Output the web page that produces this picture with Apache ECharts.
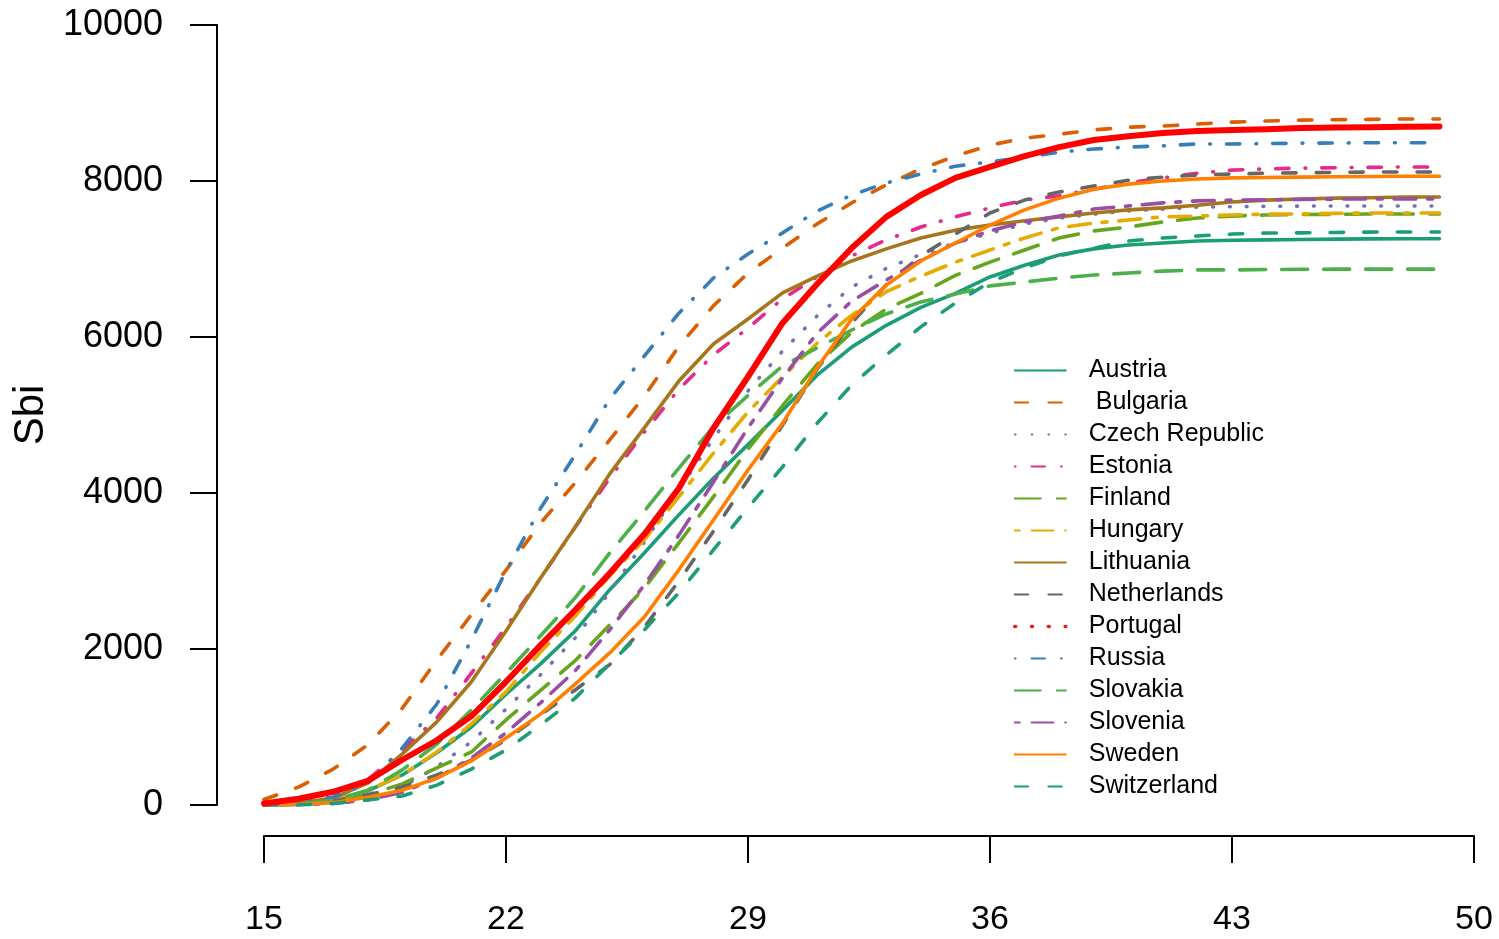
<!DOCTYPE html>
<html>
<head>
<meta charset="utf-8">
<script src="https://cdn.jsdelivr.net/npm/echarts@6/dist/echarts.min.js"></script>
<style>
  html, body { margin: 0; padding: 0; background: #fff; }
  #chart { width: 1499px; height: 939px; }
</style>
</head>
<body>
<div id="chart"></div>
<script>
// ages on the x axis
var ages = [15, 16, 17, 18, 19, 20, 21, 22, 23, 24, 25, 26, 27, 28, 29, 30, 31, 32,
            33, 34, 35, 36, 37, 38, 39, 40, 41, 42, 43, 44, 45, 46, 47, 48, 49];
var xTicks = [15, 22, 29, 36, 43, 50];

var countries = ['Austria', ' Bulgaria', 'Czech Republic', 'Estonia', 'Finland', 'Hungary',
                 'Lithuania', 'Netherlands', 'Portugal', 'Russia', 'Slovakia', 'Slovenia',
                 'Sweden', 'Switzerland'];

// Sbi by age
var austria = [0, 25, 60, 180, 385, 670, 1000, 1420, 1810, 2230, 2760, 3230, 3720, 4190, 4620, 5060, 5510, 5870,
               6150, 6380, 6560, 6770, 6920, 7050, 7130, 7180, 7205, 7230, 7240, 7245, 7250, 7255, 7258, 7260, 7260];
var bulgaria = [70, 230, 460, 770, 1240, 1860, 2440, 3010, 3615, 4130, 4680, 5240, 5880, 6400, 6820, 7140, 7450, 7720,
                7950, 8155, 8320, 8460, 8550, 8600, 8655, 8690, 8705, 8730, 8755, 8770, 8780, 8785, 8790, 8795, 8795];
var czech = [0, 5, 20, 65, 230, 490, 810, 1230, 1670, 2140, 2730, 3370, 4040, 4700, 5310, 5820, 6270, 6640,
             6880, 7060, 7205, 7330, 7450, 7525, 7575, 7615, 7640, 7665, 7670, 7675, 7678, 7680, 7680, 7680, 7680];
var estonia = [5, 25, 100, 320, 705, 1115, 1690, 2280, 2910, 3560, 4190, 4780, 5330, 5770, 6115, 6490, 6770, 7040,
               7245, 7410, 7540, 7655, 7755, 7810, 7895, 7975, 8040, 8100, 8140, 8155, 8165, 8170, 8175, 8180, 8180];
var finland = [0, 10, 40, 130, 270, 475, 680, 1090, 1470, 1850, 2310, 2780, 3360, 3950, 4560, 5120, 5650, 6060,
               6360, 6560, 6790, 6960, 7115, 7270, 7360, 7410, 7475, 7525, 7550, 7565, 7570, 7573, 7576, 7576, 7576];
var hungary = [0, 10, 50, 190, 385, 680, 1040, 1450, 1960, 2420, 2940, 3400, 3950, 4510, 5040, 5490, 5920, 6280,
               6580, 6780, 6960, 7115, 7270, 7400, 7460, 7500, 7540, 7550, 7565, 7575, 7578, 7585, 7590, 7590, 7590];
var lithuania = [10, 25, 90, 280, 655, 1065, 1580, 2230, 2910, 3565, 4245, 4835, 5435, 5910, 6230, 6565, 6780, 6975,
                 7130, 7270, 7370, 7435, 7490, 7540, 7590, 7630, 7655, 7690, 7730, 7755, 7770, 7780, 7785, 7795, 7795];
var netherlands = [0, 10, 50, 130, 230, 385, 575, 835, 1155, 1475, 1800, 2280, 2870, 3510, 4170, 4870, 5590, 6180,
                   6670, 7040, 7320, 7590, 7755, 7860, 7935, 8010, 8050, 8075, 8090, 8100, 8105, 8110, 8115, 8115, 8115];
var portugal = [20, 80, 170, 310, 580, 830, 1140, 1580, 2050, 2500, 2970, 3470, 4060, 4830, 5490, 6180, 6680, 7140,
                7540, 7820, 8040, 8180, 8320, 8435, 8525, 8575, 8615, 8640, 8655, 8665, 8680, 8685, 8690, 8695, 8700];
var russia = [10, 30, 100, 280, 730, 1295, 2115, 3000, 3805, 4490, 5205, 5755, 6305, 6755, 7065, 7335, 7615, 7820,
              7975, 8090, 8190, 8245, 8305, 8370, 8410, 8435, 8450, 8475, 8475, 8480, 8485, 8487, 8490, 8490, 8490];
var slovakia = [0, 15, 60, 190, 450, 780, 1220, 1690, 2170, 2655, 3230, 3765, 4320, 4850, 5250, 5630, 5860, 6090,
                6295, 6450, 6550, 6655, 6705, 6755, 6795, 6820, 6845, 6860, 6860, 6865, 6868, 6870, 6870, 6870, 6870];
var slovenia = [0, 5, 20, 65, 165, 345, 605, 925, 1310, 1720, 2245, 2820, 3460, 4140, 4835, 5475, 6050, 6460,
                6730, 6985, 7205, 7360, 7475, 7550, 7640, 7680, 7720, 7745, 7755, 7758, 7765, 7768, 7770, 7770, 7770];
var sweden = [0, 10, 30, 100, 190, 345, 565, 860, 1165, 1550, 1950, 2410, 3015, 3655, 4295, 4895, 5605, 6230,
              6665, 6975, 7205, 7435, 7630, 7780, 7895, 7960, 8000, 8025, 8040, 8045, 8050, 8055, 8058, 8060, 8060];
var switzerland = [0, 0, 20, 65, 115, 255, 460, 705, 1025, 1370, 1810, 2245, 2720, 3270, 3810, 4335, 4895, 5385,
                   5770, 6130, 6435, 6705, 6885, 7040, 7140, 7230, 7270, 7295, 7320, 7333, 7335, 7340, 7345, 7346, 7346];

var values = [austria, bulgaria, czech, estonia, finland, hungary, lithuania, netherlands,
              portugal, russia, slovakia, slovenia, sweden, switzerland];

// colours and R line types
var colors = ['#1B9E77', '#D95F02', '#7570B3', '#E7298A', '#66A61E', '#E6AB02', '#A6761D', '#666666',
              '#E41A1C', '#377EB8', '#4DAF4A', '#984EA3', '#FF7F00', '#1B9E77'];
var ltys = ['solid', 'dashed', 'dotted', 'dotdash', 'longdash', 'twodash',
            'solid', 'dashed', 'dotted', 'dotdash', 'longdash', 'twodash',
            'solid', 'dashed'];
var dashes = {
    solid: 'solid',
    dashed: [13.4, 20.2],
    dotted: [0.8, 16],
    dotdash: [0.8, 16, 13.4, 16],
    longdash: [26, 16],
    twodash: [5, 11.8, 21.8, 11.8]
};

var font = '"Liberation Sans", Helvetica, Arial, sans-serif';

var series = countries.map(function (name, i) {
    var thick = name === 'Portugal';
    return {
        name: name,
        type: 'line',
        data: ages.map(function (a, j) { return [a, values[i][j]]; }),
        symbol: 'none',
        smooth: false,
        animation: false,
        z: thick ? 3 : 2,
        itemStyle: { color: thick ? '#FF0000' : colors[i] },
        lineStyle: {
            color: thick ? '#FF0000' : colors[i],
            width: thick ? 6 : 3.6,
            type: thick ? 'solid' : dashes[ltys[i]],
            cap: 'round',
            join: 'round'
        }
    };
});

// Portugal's key keeps the dotted red of the legend
var legendData = countries.map(function (name, i) {
    if (name !== 'Portugal') return name;
    return {
        name: name,
        lineStyle: { color: colors[i], width: 3.6, type: dashes.dotted, cap: 'round' }
    };
});

var chart = echarts.init(document.getElementById('chart'), null, { renderer: 'canvas' });
chart.setOption({
    backgroundColor: '#fff',
    animation: false,
    grid: { left: 264, right: 25, top: 25, bottom: 134, containLabel: false, outerBoundsMode: 'none' },
    legend: {
        orient: 'vertical',
        left: 1013,
        top: 358,
        padding: 0,
        itemWidth: 51,
        itemHeight: 25,
        itemGap: 7,
        selectedMode: false,
        data: legendData,
        itemStyle: { opacity: 0 },
        textStyle: { fontSize: 25, lineHeight: 25, color: '#000', fontFamily: font, padding: [0, 0, 0, 18] }
    },
    xAxis: {
        type: 'value',
        min: 15,
        max: 50,
        interval: 7,
        offset: 31,
        axisLine: { show: true, onZero: false, lineStyle: { color: '#000', width: 2 } },
        axisTick: { show: true, inside: false, length: 27, lineStyle: { color: '#000', width: 2 } },
        axisLabel: {
            fontSize: 34, color: '#000', fontFamily: font, margin: 67,
            formatter: function (v) { return xTicks.indexOf(v) >= 0 ? String(v) : ''; }
        },
        splitLine: { show: false }
    },
    yAxis: {
        type: 'value',
        min: 0,
        max: 10000,
        interval: 2000,
        offset: 47,
        name: 'Sbi',
        nameLocation: 'middle',
        nameRotate: 90,
        nameGap: 150,
        nameTextStyle: { fontSize: 42, color: '#000', fontFamily: font },
        axisLine: { show: true, onZero: false, lineStyle: { color: '#000', width: 2 } },
        axisTick: { show: true, inside: false, length: 27, lineStyle: { color: '#000', width: 2 } },
        axisLabel: {
            fontSize: 36, color: '#000', fontFamily: font, margin: 54, padding: [5, 0, 0, 0],
            formatter: function (v) { return String(v); }
        },
        splitLine: { show: false }
    },
    series: series
});
</script>
</body>
</html>
